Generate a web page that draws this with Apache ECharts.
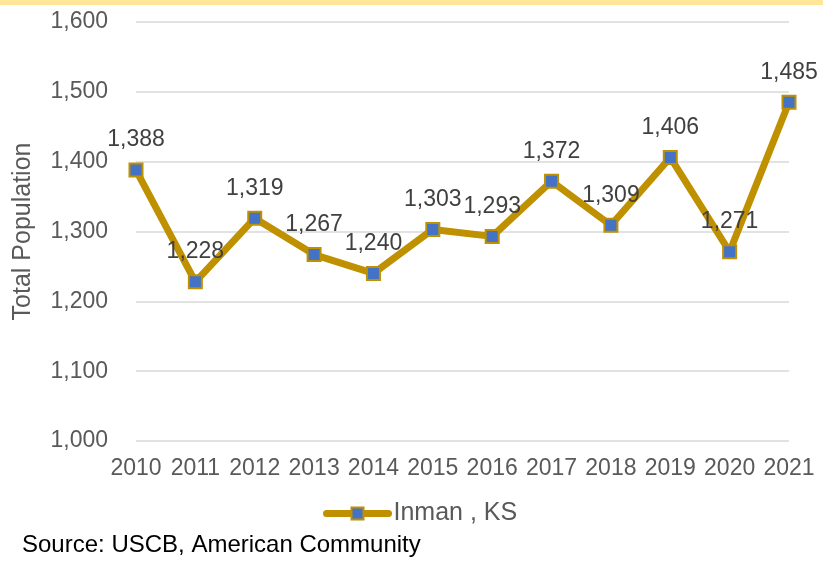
<!DOCTYPE html>
<html>
<head>
<meta charset="utf-8">
<script src="https://cdn.jsdelivr.net/npm/echarts@6/dist/echarts.min.js"></script>
<style>
html,body{margin:0;padding:0;background:#fff;}
#c{width:823px;height:561px;}
</style>
</head>
<body>
<div id="c"></div>
<script>
const years = ['2010','2011','2012','2013','2014','2015','2016','2017','2018','2019','2020','2021'];
const population = [1388, 1228, 1319, 1267, 1240, 1303, 1293, 1372, 1309, 1406, 1271, 1485];
const seriesName = 'Inman , KS';
const yAxisName = 'Total Population';
const sourceText = 'Source: USCB, American Community';

const FONT = "'Liberation Sans', Arial, sans-serif";
const fmt = v => v.toLocaleString('en-US');

const chart = echarts.init(document.getElementById('c'), null, {renderer: 'canvas'});
chart.setOption({
  animation: false,
  backgroundColor: '#fff',
  textStyle: {fontFamily: FONT},
  grid: {left: 136, right: 34, top: 22, bottom: 120, containLabel: false},
  graphic: [
    {type: 'rect', left: 0, top: 0, shape: {width: 823, height: 5}, style: {fill: '#FFE699'}},
    {type: 'text', left: 22, top: 533, style: {text: sourceText, font: "24px 'Liberation Sans', Arial, sans-serif", fill: '#000'}}
  ],
  legend: {
    left: 318, top: 496,
    itemWidth: 62, itemHeight: 15, itemGap: 10,
    lineStyle: {width: 7, cap: 'round'},
    textStyle: {fontSize: 25, color: '#595959', fontFamily: FONT},
    data: [seriesName]
  },
  xAxis: {
    type: 'category', data: years, boundaryGap: false,
    axisLine: {show: false}, axisTick: {show: false},
    axisLabel: {fontSize: 23, color: '#595959', margin: 16, interval: 0, fontFamily: FONT},
    splitLine: {show: false}
  },
  yAxis: {
    type: 'value', min: 1000, max: 1600, interval: 100,
    name: yAxisName, nameLocation: 'middle', nameGap: 100,
    nameTextStyle: {fontSize: 25, color: '#595959', fontFamily: FONT},
    axisLine: {show: false}, axisTick: {show: false},
    axisLabel: {fontSize: 23, color: '#595959', margin: 28, formatter: fmt, fontFamily: FONT},
    splitLine: {lineStyle: {color: '#D9D9D9', width: 1.5}}
  },
  series: [{
    name: seriesName, type: 'line', data: population,
    symbol: 'rect', symbolSize: 13,
    lineStyle: {color: '#BF9000', width: 7},
    itemStyle: {color: '#4472C4', borderColor: '#BF9000', borderWidth: 2},
    label: {show: true, position: 'top', distance: 11, fontSize: 23, color: '#404040', formatter: p => fmt(p.value), fontFamily: FONT},
    emphasis: {disabled: true}
  }]
});
</script>
</body>
</html>
